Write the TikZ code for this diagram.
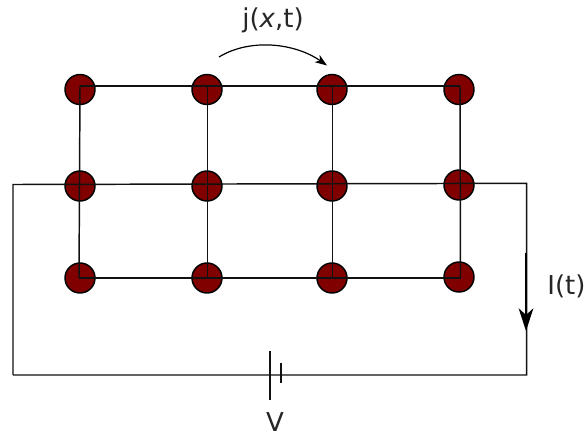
\documentclass[tikz,border=0pt]{standalone}
\usepackage{fontspec}
\setmainfont{DejaVu Sans}
\usetikzlibrary{arrows.meta}
\definecolor{sitefill}{HTML}{800000}
\definecolor{wirecol}{HTML}{111111}
\tikzset{
  site/.style={circle,draw=black,line width=1.1pt,fill=sitefill,minimum size=22.5pt,inner sep=0pt},
  wire/.style={draw=wirecol,line width=1.1pt},
  lbl/.style={font=\fontsize{19.5pt}{22pt}\selectfont,inner sep=0pt,text=black!85},
  junction/.style={coordinate}
}
\begin{document}
\begin{tikzpicture}[x=0.75pt,y=-0.75pt]
\useasboundingbox (0,0) rectangle (584,436);
% sites
\node[site] (s11) at (80,89.5) {};
\node[site] (s12) at (207,89.5) {};
\node[site] (s13) at (332,89.5) {};
\node[site] (s14) at (459,89.5) {};
\node[site] (s21) at (80,186) {};
\node[site] (s22) at (207,186) {};
\node[site] (s23) at (332,186) {};
\node[site] (s24) at (459,185) {};
\node[site] (s31) at (80,278) {};
\node[site] (s32) at (207,278) {};
\node[site] (s33) at (332,278) {};
\node[site] (s34) at (459,277) {};
% wire junctions (the grid sits slightly off the site centres)
\coordinate (a11) at (80,86);
\coordinate (a14) at (460,86);
\coordinate (a12) at (207.5,86);
\coordinate (a13) at (332.5,86);
\coordinate (a31) at (79,278);
\coordinate (a32) at (207.5,278);
\coordinate (a33) at (332.5,278);
\coordinate (a34) at (460.5,278);
\coordinate (a21) at (13,184.5);
\coordinate (a24) at (526.7,183.3);
\coordinate (bl) at (13,375);
\coordinate (br) at (526.7,375);
\coordinate (p1) at (270,375);
\coordinate (p2) at (281,375);
\coordinate (p1t) at (270,351);
\coordinate (p1b) at (270,400);
\coordinate (p2t) at (281,363);
\coordinate (p2b) at (281,383);
\coordinate (it) at (526,253);
\coordinate (ib) at (526,331);
\coordinate (js) at (219,57);
\coordinate (je) at (327,65.5);
% grid
\draw[wire] (a11) -- (a14);
\draw[wire] (a31) -- (a34);
\draw[wire] (bl) |- (a21) -- (a24) -- (br) -- (bl);
\draw[wire] (a11) -- (a31);
\draw[wire] (a12) -- (a32);
\draw[wire] (a13) -- (a33);
\draw[wire] (a14) -- (a34);
% battery
\draw[wire] (p1t) -- (p1b);
\draw[wire] (p2t) -- (p2b);
% current arrows
\draw[line width=1.5pt,-{Stealth[length=17pt,width=11pt,inset=5pt]}] (it) -- (ib);
\draw[line width=0.9pt,-{Stealth[length=9pt,width=6.5pt,inset=2.5pt]}] (js) .. controls (250,38) and (295,43) .. (je);
% labels
\node[lbl] (ljx) at (273,20) {j(\textit{x},t)};
\node[lbl] (lit) at (566.5,286) {I(t)};
\node[lbl] (lv) at (275,422) {V};
\end{tikzpicture}
\end{document}
